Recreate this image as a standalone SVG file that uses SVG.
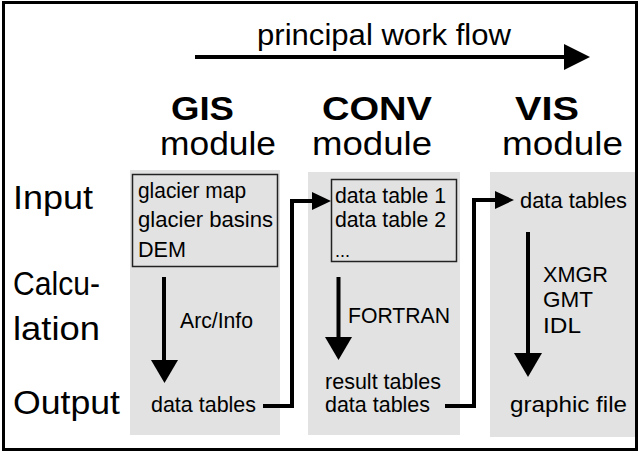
<svg xmlns="http://www.w3.org/2000/svg" width="639" height="452" viewBox="0 0 639 452">
<style>
text{font-family:"Liberation Sans",Arial,sans-serif;fill:#000}
.h{font-size:34px;font-weight:bold}
.m{font-size:33px}
.r{font-size:33px}
.t{font-size:22px}
.col{fill:#e2e2e2}
.box{fill:#e2e2e2;stroke:#222;stroke-width:1.5}
.ln{fill:none;stroke:#000;stroke-width:4}
.hd{fill:#000}
</style>
<rect x="0" y="0" width="639" height="452" fill="#fff"/>
<rect x="3.5" y="2.5" width="633" height="447" fill="none" stroke="#000" stroke-width="3"/>

<g id="title">
<text x="257" y="45" style="font-size:29px" textLength="254" lengthAdjust="spacingAndGlyphs">principal work flow</text>
</g>

<g id="rows">
<text class="r" x="13" y="209" textLength="80" lengthAdjust="spacingAndGlyphs">Input</text>
<text class="r" x="13" y="295" textLength="87" lengthAdjust="spacingAndGlyphs">Calcu-</text>
<text class="r" x="13" y="340" textLength="87" lengthAdjust="spacingAndGlyphs">lation</text>
<text class="r" x="13" y="414" textLength="107" lengthAdjust="spacingAndGlyphs">Output</text>
</g>

<g id="gis">
<rect class="col" x="130" y="170" width="150" height="265"/>
<text class="h" x="171" y="120" textLength="63" lengthAdjust="spacingAndGlyphs">GIS</text>
<text class="m" x="160" y="155" textLength="116" lengthAdjust="spacingAndGlyphs">module</text>
<rect class="box" x="132.5" y="174.5" width="145" height="92"/>
<text class="t" x="138" y="198" textLength="108" lengthAdjust="spacingAndGlyphs">glacier map</text>
<text class="t" x="138" y="227" textLength="135" lengthAdjust="spacingAndGlyphs">glacier basins</text>
<text class="t" x="138" y="257" textLength="48" lengthAdjust="spacingAndGlyphs">DEM</text>
<text class="t" x="180" y="328" textLength="73" lengthAdjust="spacingAndGlyphs">Arc/Info</text>
<text class="t" x="151" y="412" textLength="105" lengthAdjust="spacingAndGlyphs">data tables</text>
</g>

<g id="conv">
<rect class="col" x="308" y="172" width="152" height="263"/>
<text class="h" x="322" y="120" textLength="110" lengthAdjust="spacingAndGlyphs">CONV</text>
<text class="m" x="312" y="155" textLength="120" lengthAdjust="spacingAndGlyphs">module</text>
<rect class="box" x="331.5" y="179.5" width="125" height="82"/>
<text class="t" x="335" y="203" textLength="111" lengthAdjust="spacingAndGlyphs">data table 1</text>
<text class="t" x="335" y="227" textLength="111" lengthAdjust="spacingAndGlyphs">data table 2</text>
<text x="335" y="257" style="font-size:18px">...</text>
<text class="t" x="348" y="323" textLength="102" lengthAdjust="spacingAndGlyphs">FORTRAN</text>
<text class="t" x="325" y="389" textLength="116" lengthAdjust="spacingAndGlyphs">result tables</text>
<text class="t" x="325" y="412" textLength="105" lengthAdjust="spacingAndGlyphs">data tables</text>
</g>

<g id="vis">
<rect class="col" x="490" y="172" width="145" height="265"/>
<text class="h" x="515" y="120" textLength="64" lengthAdjust="spacingAndGlyphs">VIS</text>
<text class="m" x="502" y="155" textLength="121" lengthAdjust="spacingAndGlyphs">module</text>
<text class="t" x="520" y="208" textLength="107" lengthAdjust="spacingAndGlyphs">data tables</text>
<text class="t" x="543" y="282" textLength="65" lengthAdjust="spacingAndGlyphs">XMGR</text>
<text class="t" x="543" y="307" textLength="50" lengthAdjust="spacingAndGlyphs">GMT</text>
<text class="t" x="543" y="333" textLength="38" lengthAdjust="spacingAndGlyphs">IDL</text>
<text class="t" x="510" y="412" textLength="117" lengthAdjust="spacingAndGlyphs">graphic file</text>
</g>

<g id="connectors">
<line class="ln" x1="195" y1="57" x2="566" y2="57" stroke-width="5"/>
<polygon class="hd" points="564,44 590,57 564,70"/>

<line class="ln" x1="164" y1="277" x2="164" y2="362"/>
<polygon class="hd" points="151,360 178,360 164.5,383"/>
<line class="ln" x1="338.5" y1="277" x2="338.5" y2="339"/>
<polygon class="hd" points="325,337 352,337 338.5,360"/>
<line class="ln" x1="528" y1="232" x2="528" y2="355"/>
<polygon class="hd" points="514,353 542,353 528,377"/>

<polyline class="ln" points="263,406 292,406 292,201 314,201"/>
<polygon class="hd" points="312,192 331,201 312,210"/>
<polyline class="ln" points="445,406 474,406 474,200 497,200"/>
<polygon class="hd" points="495,191 514,200 495,209"/>
</g>
</svg>
